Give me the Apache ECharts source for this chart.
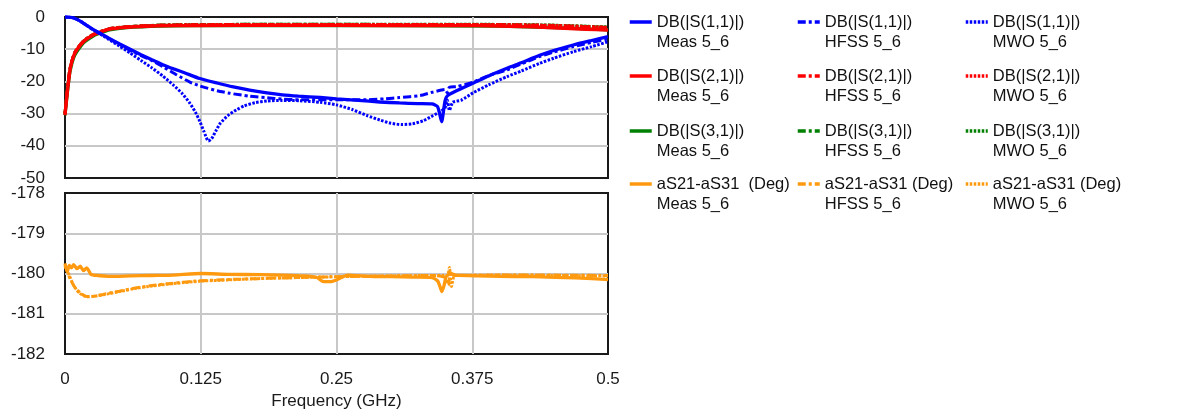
<!DOCTYPE html>
<html>
<head>
<meta charset="utf-8">
<script src="https://cdn.jsdelivr.net/npm/echarts@6/dist/echarts.min.js"></script>
<style>
html,body{margin:0;padding:0;background:#fff;}
#chart{width:1177px;height:412px;}
</style>
</head>
<body>
<div id="chart"></div>
<script>
// ---- Data (frequency in GHz, value) ----
const s11Meas = [[0,0],[0.004,-0.05],[0.008,-0.3],[0.012,-0.9],[0.016,-1.7],[0.02,-2.6],[0.025,-3.7],[0.032,-5.0],[0.04,-6.5],[0.05,-8.3],[0.06,-10.0],[0.07,-11.7],[0.08,-13.3],[0.09,-14.8],[0.1,-16.1],[0.11,-17.3],[0.124,-19.1],[0.14,-20.5],[0.155,-21.7],[0.17,-22.7],[0.186,-23.6],[0.2,-24.2],[0.215,-24.6],[0.235,-25.0],[0.25,-25.4],[0.27,-25.9],[0.29,-26.4],[0.308,-26.7],[0.325,-26.9],[0.338,-27.0],[0.343,-27.8],[0.346,-31.5],[0.347,-32.5],[0.348,-30.5],[0.35,-26.0],[0.352,-24.5],[0.36,-23.0],[0.37,-21.4],[0.376,-20.5],[0.39,-18.3],[0.407,-15.9],[0.42,-14.2],[0.437,-11.9],[0.45,-10.4],[0.468,-8.7],[0.485,-7.3],[0.5,-6.1]];
const s11Hfss = [[0,0],[0.004,-0.05],[0.008,-0.3],[0.012,-0.9],[0.016,-1.7],[0.02,-2.6],[0.025,-3.7],[0.032,-5.0],[0.04,-6.6],[0.05,-8.5],[0.06,-10.4],[0.07,-12.0],[0.078,-13.2],[0.09,-15.4],[0.103,-18.0],[0.115,-20.2],[0.124,-21.4],[0.14,-22.9],[0.152,-23.7],[0.17,-24.6],[0.186,-25.1],[0.2,-25.5],[0.216,-25.7],[0.25,-25.7],[0.278,-25.7],[0.295,-25.4],[0.308,-25.0],[0.327,-24.4],[0.339,-23.3],[0.35,-22.5],[0.352,-23.5],[0.354,-21.8],[0.361,-21.6],[0.376,-20.2],[0.39,-18.2],[0.407,-16.4],[0.42,-14.6],[0.437,-12.3],[0.45,-10.9],[0.468,-9.2],[0.485,-7.9],[0.5,-6.8]];
const s11Mwo = [[0,0],[0.004,-0.05],[0.008,-0.3],[0.012,-0.9],[0.016,-1.7],[0.02,-2.6],[0.025,-3.8],[0.032,-5.2],[0.04,-6.9],[0.05,-9.0],[0.06,-11.2],[0.07,-13.5],[0.08,-15.8],[0.09,-18.3],[0.1,-21.2],[0.108,-23.8],[0.115,-26.8],[0.12,-29.5],[0.124,-32.3],[0.128,-35.6],[0.132,-38.5],[0.135,-37.8],[0.139,-35.3],[0.143,-33.0],[0.15,-30.6],[0.158,-28.8],[0.165,-27.6],[0.175,-26.6],[0.186,-26.1],[0.2,-25.9],[0.216,-26.0],[0.235,-26.5],[0.25,-27.3],[0.265,-28.8],[0.278,-30.6],[0.29,-32.0],[0.3,-33.0],[0.31,-33.4],[0.32,-33.2],[0.33,-32.2],[0.339,-30.6],[0.346,-29.3],[0.35,-28.2],[0.352,-25.8],[0.354,-29.0],[0.357,-26.5],[0.365,-25.8],[0.376,-23.5],[0.39,-21.1],[0.407,-18.5],[0.42,-16.8],[0.437,-14.4],[0.45,-12.8],[0.468,-10.8],[0.485,-9.2],[0.5,-7.7]];

const s21Meas = [[0,-30.5],[0.001,-27],[0.002,-23.7],[0.003,-20.8],[0.0046,-16.5],[0.0065,-13.6],[0.009,-11.3],[0.012,-9.6],[0.017,-7.7],[0.021,-6.6],[0.026,-5.6],[0.033,-4.6],[0.041,-3.8],[0.05,-3.4],[0.057,-3.2],[0.07,-2.95],[0.087,-2.75],[0.12,-2.65],[0.2,-2.6],[0.3,-2.65],[0.38,-2.7],[0.4,-2.8],[0.42,-3.0],[0.44,-3.2],[0.46,-3.5],[0.48,-3.8],[0.5,-4.1]];
const s21Hfss = [[0,-30],[0.002,-23],[0.0046,-16],[0.009,-11],[0.017,-7.4],[0.026,-5.4],[0.041,-3.6],[0.057,-3.0],[0.087,-2.55],[0.12,-2.4],[0.2,-2.35],[0.3,-2.35],[0.4,-2.4],[0.45,-2.7],[0.5,-3.3]];
const s21Mwo = [[0,-30],[0.002,-23.2],[0.0046,-16.2],[0.009,-11.1],[0.017,-7.5],[0.026,-5.5],[0.041,-3.7],[0.057,-3.05],[0.087,-2.6],[0.12,-2.4],[0.2,-2.3],[0.3,-2.3],[0.4,-2.35],[0.45,-2.6],[0.5,-3.2]];
const s31Meas = [[0,-30.5],[0.002,-24],[0.0046,-17],[0.009,-11.8],[0.017,-8.0],[0.026,-5.9],[0.033,-4.9],[0.041,-4.0],[0.057,-3.3],[0.087,-2.8],[0.12,-2.7],[0.2,-2.65],[0.3,-2.7],[0.4,-2.85],[0.45,-3.3],[0.5,-4.0]];
const s31Hfss = [[0,-30],[0.002,-23],[0.0046,-16],[0.009,-11],[0.017,-7.4],[0.026,-5.4],[0.041,-3.6],[0.057,-3.0],[0.087,-2.5],[0.12,-2.35],[0.2,-2.25],[0.3,-2.3],[0.4,-2.35],[0.45,-2.6],[0.5,-3.2]];
const s31Mwo = [[0,-30],[0.002,-23.2],[0.0046,-16.2],[0.009,-11.1],[0.017,-7.5],[0.026,-5.5],[0.041,-3.7],[0.057,-3.05],[0.087,-2.55],[0.12,-2.35],[0.2,-2.25],[0.3,-2.25],[0.4,-2.3],[0.45,-2.55],[0.5,-3.1]];

const phMeas = [[0,-179.75],[0.002,-179.95],[0.004,-179.8],[0.006,-179.86],[0.008,-179.78],[0.011,-179.88],[0.014,-179.82],[0.017,-179.93],[0.02,-179.86],[0.024,-180.02],[0.03,-180.05],[0.04,-180.07],[0.06,-180.06],[0.08,-180.05],[0.1,-180.04],[0.125,-180.0],[0.15,-180.02],[0.18,-180.03],[0.2,-180.04],[0.22,-180.06],[0.232,-180.1],[0.238,-180.2],[0.245,-180.2],[0.25,-180.16],[0.256,-180.08],[0.26,-180.04],[0.28,-180.07],[0.3,-180.08],[0.32,-180.09],[0.338,-180.1],[0.343,-180.18],[0.345,-180.3],[0.347,-180.45],[0.349,-180.3],[0.351,-180.08],[0.355,-180.0],[0.36,-180.04],[0.38,-180.06],[0.4,-180.07],[0.43,-180.08],[0.46,-180.1],[0.48,-180.12],[0.5,-180.15]];
const phHfss = [[0,-179.8],[0.005,-180.15],[0.01,-180.38],[0.015,-180.5],[0.02,-180.57],[0.025,-180.57],[0.035,-180.52],[0.05,-180.44],[0.065,-180.36],[0.08,-180.3],[0.1,-180.24],[0.125,-180.18],[0.15,-180.15],[0.175,-180.13],[0.2,-180.11],[0.25,-180.08],[0.3,-180.06],[0.34,-180.05],[0.35,-180.1],[0.353,-180.3],[0.355,-179.95],[0.358,-180.05],[0.4,-180.04],[0.45,-180.04],[0.5,-180.05]];
const phMwo = [[0,-179.8],[0.004,-180.05],[0.008,-180.3],[0.013,-180.48],[0.02,-180.58],[0.026,-180.57],[0.035,-180.53],[0.05,-180.45],[0.065,-180.37],[0.08,-180.31],[0.1,-180.25],[0.125,-180.19],[0.15,-180.16],[0.175,-180.13],[0.2,-180.11],[0.25,-180.08],[0.3,-180.06],[0.34,-180.05],[0.352,-180.05],[0.354,-179.85],[0.356,-180.32],[0.359,-180.05],[0.4,-180.04],[0.45,-180.05],[0.5,-180.06]];

// ---- Legend labels (3 columns x 4 rows) ----
const sourceNames = ['Meas 5_6', 'HFSS 5_6', 'MWO 5_6'];
const quantityNames = ['DB(|S(1,1)|)', 'DB(|S(2,1)|)', 'DB(|S(3,1)|)', 'aS21-aS31 (Deg)'];
const quantityNamesMeas = ['DB(|S(1,1)|)', 'DB(|S(2,1)|)', 'DB(|S(3,1)|)', 'aS21-aS31  (Deg)'];

const BLUE = '#0000ff', RED = '#ff0000', GREEN = '#008000', ORANGE = '#ff9a10';
const FONT = '"Liberation Sans", Arial, sans-serif';
const DASHDOT = [8, 3, 3, 3];
const DOT = [2.5, 1.5];

function nm(q, s) { return (s === 0 ? quantityNamesMeas[q] : quantityNames[q]) + '\n' + sourceNames[s]; }

function mk(q, s, data, color, grid, z) {
  const type = s === 0 ? 'solid' : (s === 1 ? DASHDOT : DOT);
  return {
    name: nm(q, s), type: 'line', data: data,
    xAxisIndex: grid, yAxisIndex: grid,
    symbol: 'none', showSymbol: false, smooth: 0.2,
    lineStyle: { color: color, width: s === 0 ? 3.3 : 3, type: type },
    itemStyle: { color: color },
    z: z, animation: false
  };
}

const seriesList = [
  mk(2, 1, s31Hfss, GREEN, 0, 2),
  mk(2, 2, s31Mwo, GREEN, 0, 2),
  mk(2, 0, s31Meas, GREEN, 0, 2),
  mk(1, 0, s21Meas, RED, 0, 3),
  mk(1, 1, s21Hfss, RED, 0, 3),
  mk(1, 2, s21Mwo, RED, 0, 3),
  mk(0, 2, s11Mwo, BLUE, 0, 4),
  mk(0, 1, s11Hfss, BLUE, 0, 4),
  mk(0, 0, s11Meas, BLUE, 0, 4),
  mk(3, 1, phHfss, ORANGE, 1, 3),
  mk(3, 2, phMwo, ORANGE, 1, 3),
  mk(3, 0, phMeas, ORANGE, 1, 4)
];

const colLeft = [628, 796, 964];
const rowFirstLine = [22, 76, 131, 184];
const legends = [];
for (let q = 0; q < 4; q++) {
  for (let s = 0; s < 3; s++) {
    legends.push({
      data: [nm(q, s)],
      left: colLeft[s], top: rowFirstLine[q] - 30,
      padding: 0, itemWidth: 22, itemHeight: 12, itemGap: 0,
      selectedMode: false,
      itemStyle: { opacity: 0 },
      lineStyle: { width: 3.5 },
      formatter: function (n) { return '\n' + n; },
      textStyle: { fontFamily: FONT, fontSize: 16.5, lineHeight: 20, color: '#111' }
    });
  }
}

const gridLine = { show: true, showMinLine: false, showMaxLine: false, lineStyle: { color: '#c8c8c8', width: 2 } };
const labelStyle = { fontFamily: FONT, fontSize: 17, color: '#1a1a1a' };

const option = {
  backgroundColor: '#fff',
  animation: false,
  grid: [
    { left: 65, top: 17, width: 543, height: 161, show: true, borderColor: '#1a1a1a', borderWidth: 2, backgroundColor: 'transparent', outerBoundsMode: 'none' },
    { left: 65, top: 193, width: 543, height: 161, show: true, borderColor: '#1a1a1a', borderWidth: 2, backgroundColor: 'transparent', outerBoundsMode: 'none' }
  ],
  xAxis: [
    { type: 'value', gridIndex: 0, min: 0, max: 0.5, interval: 0.125,
      axisLine: { show: false }, axisTick: { show: false }, axisLabel: { show: false }, splitLine: gridLine },
    { type: 'value', gridIndex: 1, min: 0, max: 0.5, interval: 0.125,
      axisLine: { show: false }, axisTick: { show: false },
      axisLabel: Object.assign({ margin: 17 }, labelStyle),
      splitLine: gridLine,
      name: 'Frequency (GHz)', nameLocation: 'middle', nameGap: 39,
      nameTextStyle: labelStyle }
  ],
  yAxis: [
    { type: 'value', gridIndex: 0, min: -50, max: 0, interval: 10,
      axisLine: { show: false }, axisTick: { show: false },
      axisLabel: Object.assign({ margin: 20 }, labelStyle), splitLine: gridLine },
    { type: 'value', gridIndex: 1, min: -182, max: -178, interval: 1,
      axisLine: { show: false }, axisTick: { show: false },
      axisLabel: Object.assign({ margin: 20 }, labelStyle), splitLine: gridLine }
  ],
  legend: legends,
  series: seriesList
};

const chart = echarts.init(document.getElementById('chart'), null, { renderer: 'canvas' });
chart.setOption(option);
</script>
</body>
</html>
